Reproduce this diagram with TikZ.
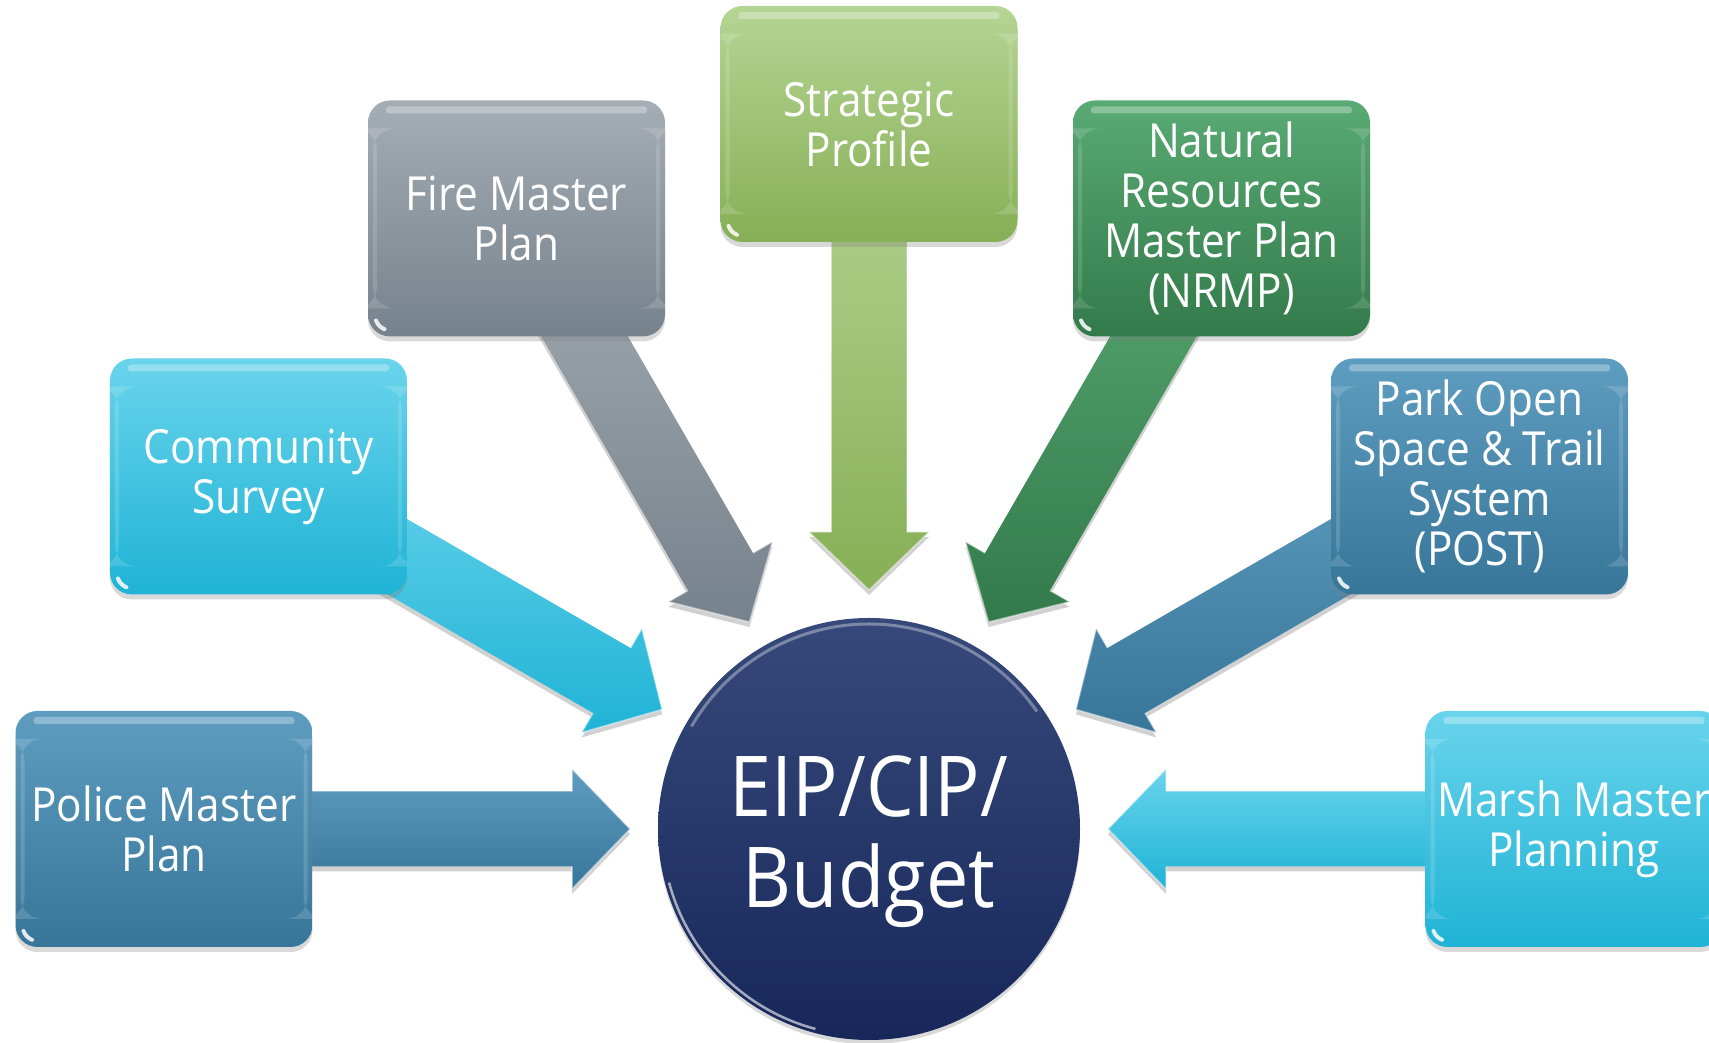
\documentclass[tikz,border=0pt]{standalone}
\usepackage{fontspec}
\setmainfont[FakeStretch=0.9]{Open Sans}
\usetikzlibrary{calc,shadows}
\pgfdeclarelayer{bg}
\pgfsetlayers{bg,main}
\definecolor{steelT}{HTML}{5F9DC0}
\definecolor{steelB}{HTML}{377699}
\definecolor{cyanT}{HTML}{69D4EB}
\definecolor{cyanB}{HTML}{1FB3D6}
\definecolor{greyT}{HTML}{A5ADB5}
\definecolor{greyB}{HTML}{76828C}
\definecolor{limeT}{HTML}{B5D594}
\definecolor{limeB}{HTML}{86AF56}
\definecolor{greenT}{HTML}{59AA74}
\definecolor{greenB}{HTML}{337A4A}
\definecolor{navyT}{HTML}{37497A}
\definecolor{navyB}{HTML}{17275A}
\tikzset{
  fillsteel/.style={top color=steelT, bottom color=steelB},
  fillcyan/.style={top color=cyanT, bottom color=cyanB},
  fillgrey/.style={top color=greyT, bottom color=greyB},
  filllime/.style={top color=limeT, bottom color=limeB},
  fillgreen/.style={top color=greenT, bottom color=greenB},
  box/.style={rounded corners=22pt, minimum width=297pt, minimum height=236pt,
    inner sep=0pt, text=white, align=center, font=\fontsize{47}{50}\selectfont,
    drop shadow={opacity=0.3, shadow xshift=0pt, shadow yshift=-5pt},
    path picture={
      \fill[white,opacity=0.3,rounded corners=3pt]
        ([xshift=18pt,yshift=-6pt]path picture bounding box.north west) rectangle
        ([xshift=-18pt,yshift=-13pt]path picture bounding box.north east);
      \fill[white,opacity=0.15]
        ([xshift=5pt,yshift=-28pt]path picture bounding box.north west) rectangle
        ([xshift=9pt,yshift=28pt]path picture bounding box.south west);
      \fill[white,opacity=0.15]
        ([xshift=-9pt,yshift=-28pt]path picture bounding box.north east) rectangle
        ([xshift=-5pt,yshift=28pt]path picture bounding box.south east);
      \draw[white,opacity=0.85,line width=4pt,line cap=round]
        ([xshift=8pt,yshift=16pt]path picture bounding box.south west)
        arc[start angle=200, end angle=248, radius=15pt];
    }},
  hubstyle/.style={circle, minimum size=422pt, inner sep=0pt,
    top color=navyT, bottom color=navyB, text=white, align=center,
    font=\fontsize{84}{91}\selectfont,
    drop shadow={opacity=0.3, shadow xshift=0pt, shadow yshift=-4pt}},
  arrowrim/.style={white, opacity=0.45, line width=1.5pt, line join=miter}
}
% #1 source node, #2 target node, #3 shading style
\newcommand\blockarrow[3]{%
  \coordinate (tip) at ($(#2)!239pt!(#1)$);
  \coordinate (base) at ($(#2)!297pt!(#1)$);
  \coordinate (a1) at ($(#1)!37.5pt!90:(#2)$);
  \coordinate (a2) at ($(base)!37.5pt!-90:(#1)$);
  \coordinate (a3) at ($(base)!60pt!-90:(#1)$);
  \coordinate (a4) at ($(base)!60pt!90:(#1)$);
  \coordinate (a5) at ($(base)!37.5pt!90:(#1)$);
  \coordinate (a6) at ($(#1)!37.5pt!-90:(#2)$);
  \fill[black, opacity=0.18, transform canvas={yshift=-5pt}]
    (a1) -- (a2) -- (a3) -- (tip) -- (a4) -- (a5) -- (a6) -- cycle;
  \shade[#3] (a1) -- (a2) -- (a3) -- (tip) -- (a4) -- (a5) -- (a6) -- cycle;
  \draw[arrowrim] (a2) -- (a3) -- (tip) -- (a4) -- (a5);
}
\begin{document}
\begin{tikzpicture}[x=1pt,y=1pt]
\useasboundingbox (0,0) rectangle (1709,1043);
\node[hubstyle] (hub) at (869,214) {\rule{0pt}{86pt}EIP/CIP/\\Budget};
\draw[white, opacity=0.35, line width=3pt]
  ([shift={(150:205)}]hub.center) arc[start angle=150, end angle=35, radius=205];
\draw[white, opacity=0.6, line width=2.5pt]
  ([shift={(195:207)}]hub.center) arc[start angle=195, end angle=255, radius=207];
\node[box, fillsteel] (police) at ($(hub)+(180:705)$) {Police Master\\Plan};
\node[box, fillcyan] (community) at ($(hub)+(150:705)$) {Community\\Survey};
\node[box, fillgrey] (fire) at ($(hub)+(120:705)$) {Fire Master\\Plan};
\node[box, filllime] (strategic) at ($(hub)+(90:705)$) {Strategic\\Profile};
\node[box, fillgreen] (nrmp) at ($(hub)+(60:705)$) {Natural\\Resources\\Master Plan\\(NRMP)};
\node[box, fillsteel] (post) at ($(hub)+(30:705)$) {Park Open\\Space \& Trail\\System\\(POST)};
\node[box, fillcyan] (marsh) at ($(hub)+(0:705)$) {Marsh Master\\Planning};
\begin{pgfonlayer}{bg}
  \blockarrow{police}{hub}{fillsteel}
  \blockarrow{community}{hub}{fillcyan}
  \blockarrow{fire}{hub}{fillgrey}
  \blockarrow{strategic}{hub}{filllime}
  \blockarrow{nrmp}{hub}{fillgreen}
  \blockarrow{post}{hub}{fillsteel}
  \blockarrow{marsh}{hub}{fillcyan}
\end{pgfonlayer}
\end{tikzpicture}
\end{document}
